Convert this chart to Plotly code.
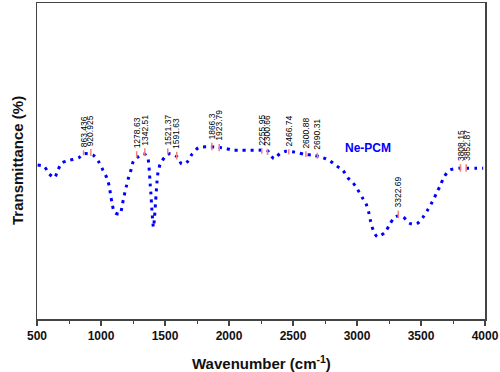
import plotly.graph_objects as go

# Spectrum (wavenumber, transmittance in arbitrary % units)
wavenumber = [505, 557, 596, 637, 661, 695, 754, 825, 869, 937, 981, 1015, 1046, 1064,
              1075, 1088, 1106, 1148, 1166, 1181, 1197, 1215, 1236, 1254, 1293, 1332,
              1363, 1379, 1384, 1390, 1398, 1410, 1418, 1423, 1437, 1445, 1463, 1502,
              1541, 1593, 1632, 1676, 1710, 1762, 1827, 1905, 1978, 2035, 2093, 2165,
              2230, 2296, 2352, 2399, 2446, 2516, 2594, 2659, 2737, 2790, 2842, 2889,
              2928, 2967, 3003, 3040, 3071, 3092, 3107, 3128, 3160, 3219, 3254, 3299,
              3357, 3409, 3466, 3514, 3552, 3588, 3621, 3652, 3682, 3726, 3799, 3857,
              3927, 3986]
transmittance = [48.7, 48.2, 45.9, 44.7, 46.9, 49.4, 50.2, 51.0, 52.3, 51.9, 49.8, 47.1,
                 44.6, 42.1, 39.3, 36.4, 33.7, 33.2, 36.1, 39.0, 41.8, 44.7, 47.4, 50.0,
                 51.4, 52.3, 51.3, 45.8, 42.8, 39.6, 34.3, 29.0, 32.2, 34.9, 43.2, 46.3,
                 49.0, 51.4, 52.4, 51.4, 49.0, 49.8, 52.1, 54.2, 54.5, 54.4, 53.9, 53.4,
                 53.4, 53.4, 53.4, 53.4, 50.7, 52.4, 53.1, 52.8, 52.1, 51.8, 51.0, 50.0,
                 48.4, 47.1, 44.7, 43.2, 41.1, 38.5, 36.4, 33.7, 30.8, 28.0, 26.0, 27.5,
                 29.8, 32.4, 32.4, 30.3, 30.1, 32.1, 34.5, 37.1, 39.8, 42.4, 45.1, 47.1,
                 47.7, 47.7, 47.7, 47.7]

# Peak annotations
peak_pos = [863.436, 920.925, 1278.63, 1342.51, 1521.37, 1591.63, 1866.3, 1923.79,
            2255.95, 2300.66, 2466.74, 2600.88, 2690.31, 3322.69, 3808.15, 3852.87]
peak_labels = ["863.436", "920.925", "1278.63", "1342.51", "1521.37", "1591.63",
               "1866.3", "1923.79", "2255.95", "2300.66", "2466.74", "2600.88",
               "2690.31", "3322.69", "3808.15", "3852.87"]
peak_low = [51.8, 51.6, 51.0, 51.6, 52.1, 50.5, 53.4, 53.1, 52.3, 51.9, 52.1, 51.3,
            50.7, 31.9, 46.6, 46.6]
peak_high = [53.4, 53.8, 53.1, 54.0, 54.0, 52.9, 55.8, 55.4, 54.0, 53.8, 53.7, 53.1,
             52.6, 34.3, 49.0, 49.0]

series_name = "Ne-PCM"
x_ticks = [500, 1000, 1500, 2000, 2500, 3000, 3500, 4000]

FONT = "Liberation Sans, Arial, sans-serif"

fig = go.Figure()
fig.add_trace(go.Scatter(
    x=wavenumber, y=transmittance, mode="lines",
    line=dict(color="#0000ff", width=3, dash="3px,5px", shape="spline", smoothing=0.8),
    showlegend=False, hoverinfo="skip"))

shapes = []
annotations = []
for xp, lab, lo, hi in zip(peak_pos, peak_labels, peak_low, peak_high):
    shapes.append(dict(type="line", xref="x", yref="y", x0=xp, x1=xp, y0=lo, y1=hi,
                       line=dict(color="#f08080", width=1.5)))
    annotations.append(dict(x=xp, y=hi, xref="x", yref="y", text=lab, showarrow=False,
                            textangle=-90, xanchor="center", yanchor="bottom", yshift=1,
                            font=dict(family=FONT, size=8.5, color="#000")))

annotations.append(dict(x=2890, y=54, xref="x", yref="y", text="<b>" + series_name + "</b>",
                        showarrow=False, xanchor="left", yanchor="middle",
                        font=dict(family=FONT, size=12, color="#0000ff")))
annotations.append(dict(x=0.5, y=0, xref="paper", yref="paper",
                        text="<b>Wavenumber (cm<sup>-1</sup>)</b>", showarrow=False,
                        xanchor="center", yanchor="middle", yshift=-43,
                        font=dict(family=FONT, size=15, color="#111")))
annotations.append(dict(x=0, y=0.5, xref="paper", yref="paper",
                        text="<b>Transmittance (%)</b>", showarrow=False, textangle=-90,
                        xanchor="center", yanchor="middle", xshift=-20,
                        font=dict(family=FONT, size=15, color="#111")))

fig.update_layout(
    width=500, height=372,
    margin=dict(l=37, r=14, t=1, b=53),
    plot_bgcolor="white", paper_bgcolor="white",
    shapes=shapes, annotations=annotations,
    xaxis=dict(range=[500, 4000], tickvals=x_ticks, ticktext=[str(v) for v in x_ticks],
               showgrid=False, zeroline=False, showline=True, mirror=True,
               linecolor="#444", linewidth=1.5, ticks="outside", ticklen=5,
               tickwidth=1.2, tickcolor="#444",
               minor=dict(dtick=250, tick0=500, ticks="outside", ticklen=3,
                          tickwidth=1, tickcolor="#444", showgrid=False),
               tickfont=dict(family=FONT, size=12, color="#111", weight="bold")),
    yaxis=dict(range=[0, 100], showticklabels=False, showgrid=False, zeroline=False,
               showline=True, mirror=True, linecolor="#444", linewidth=1.5, ticks=""),
)

fig.write_html("out.html", config={"displayModeBar": False, "staticPlot": True},
               post_script="document.body.style.margin='0';document.body.style.padding='0';")
